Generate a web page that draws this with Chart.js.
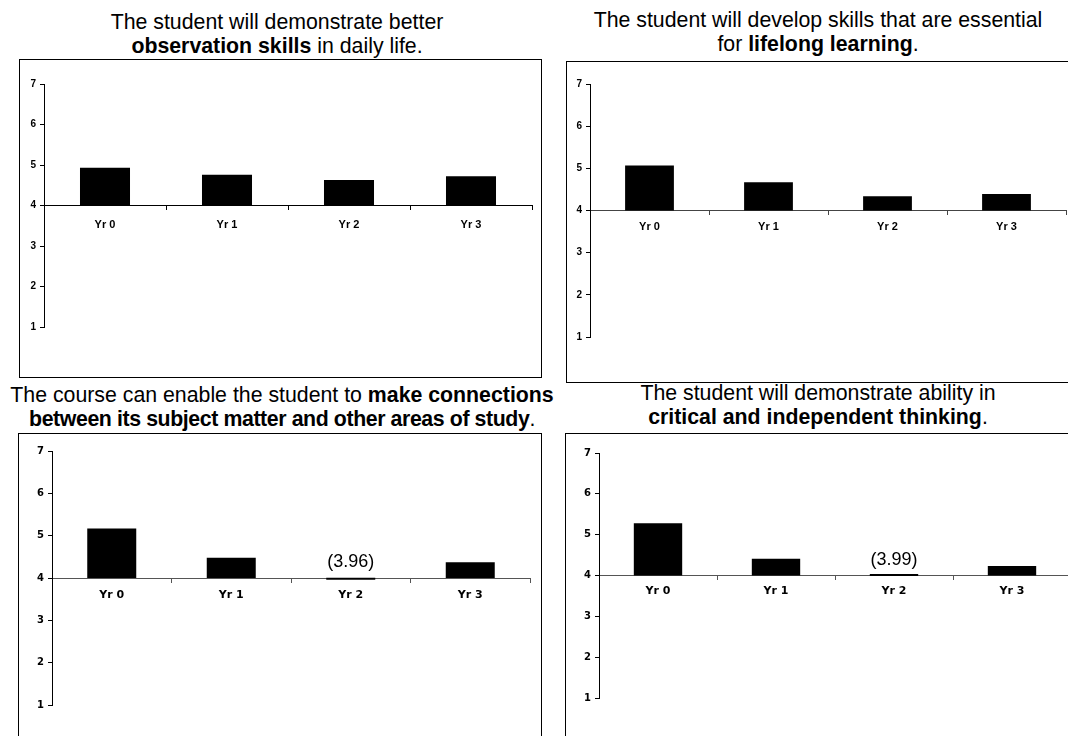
<!DOCTYPE html>
<html>
<head>
<meta charset="utf-8">
<script src="https://cdn.jsdelivr.net/npm/chart.js@4.4.1/dist/chart.umd.min.js"></script>
<style>
  html, body { margin: 0; padding: 0; background: #fff; }
  body { width: 1068px; height: 736px; overflow: hidden; position: relative;
         font-family: "Liberation Sans", Arial, sans-serif; color: #000; }
  .title { position: absolute; text-align: center; font-size: 21.3px; line-height: 24px;
           white-space: nowrap; transform: translateX(-50%); }
  .tight { letter-spacing: -0.4px; }
  .box { position: absolute; border: 1px solid #000; background: #fff; }
  .box canvas { display: block; }
</style>
</head>
<body>

<div class="title" style="left:277px; top:10px;">The student will demonstrate better<br><b>observation skills</b> in daily life.</div>
<div class="title" style="left:818px; top:8px;">The student will develop skills that are essential<br>for <b>lifelong learning</b>.</div>
<div class="title" style="left:282px; top:383px;">The course can enable the student to <b>make connections</b><br><span class="tight"><b>between its subject matter and other areas of study</b>.</span></div>
<div class="title" style="left:818px; top:381px;">The student will demonstrate ability in<br><b>critical and independent thinking</b>.</div>

<div class="box" style="left:19px; top:59px;"><canvas id="c1" width="521" height="317"></canvas></div>
<div class="box" style="left:566px; top:61px;"><canvas id="c2" width="513" height="320"></canvas></div>
<div class="box" style="left:18px; top:433px;"><canvas id="c3" width="522" height="311"></canvas></div>
<div class="box" style="left:565px; top:433px;"><canvas id="c4" width="524" height="311"></canvas></div>

<script>
// Survey categories and mean scores (7-point scale, bars drawn from the neutral midpoint 4)
const years = ['Yr 0', 'Yr 1', 'Yr 2', 'Yr 3'];
const observationSkills = [4.93, 4.76, 4.63, 4.72];
const lifelongLearning  = [5.07, 4.67, 4.34, 4.39];
const makeConnections   = [5.17, 4.48, 3.96, 4.37];
const criticalThinking  = [5.28, 4.41, 3.99, 4.23];
const scaleMin = 1;
const scaleMax = 7;
const midpoint = 4;

const SANS = '"Liberation Sans", Arial, sans-serif';
const WIDE = '"DejaVu Sans", Verdana, sans-serif';

// Writes "(value)" above the axis for bars that dip below the midpoint
const belowMidpointLabel = {
  id: 'belowMidpointLabel',
  afterDatasetsDraw(chart) {
    const ctx = chart.ctx;
    const meta = chart.getDatasetMeta(0);
    const yScale = chart.scales.y;
    chart.data.datasets[0].data.forEach((pair, i) => {
      const v = pair[1];
      if (v < pair[0]) {
        const el = meta.data[i];
        ctx.save();
        ctx.font = '18px ' + SANS;
        ctx.fillStyle = '#000';
        ctx.textAlign = 'center';
        ctx.textBaseline = 'alphabetic';
        ctx.fillText('(' + v.toFixed(2) + ')', el.x, yScale.getPixelForValue(pair[0]) - 11);
        ctx.restore();
      }
    });
  }
};

function drawPanel(canvasId, values, axisWidth, pad, labelPad, xFont, yFont, xAxisColor) {
  new Chart(document.getElementById(canvasId), {
    type: 'bar',
    data: {
      labels: years,
      datasets: [{
        data: values.map(v => [midpoint, v]),
        backgroundColor: '#000',
        borderWidth: 0,
        categoryPercentage: 1.0,
        barPercentage: 0.41,
        minBarLength: 2
      }]
    },
    options: {
      responsive: false,
      animation: false,
      layout: { padding: { left: 0, top: pad.top, right: pad.right, bottom: pad.bottom } },
      plugins: { legend: { display: false }, title: { display: false }, tooltip: { enabled: false } },
      scales: {
        x: {
          position: { y: midpoint },
          afterFit(scale) { scale.height = 0; },
          border: { display: true, color: xAxisColor, width: 1 },
          grid: { offset: true, drawOnChartArea: false, drawTicks: true, tickLength: 4, color: xAxisColor },
          ticks: { color: '#000', padding: labelPad, maxRotation: 0, autoSkip: false, font: xFont }
        },
        y: {
          position: 'left',
          min: scaleMin,
          max: scaleMax,
          afterFit(scale) { scale.width = axisWidth; },
          border: { display: true, color: '#000', width: 1 },
          grid: { drawOnChartArea: false, drawTicks: true, tickLength: 4, color: '#000' },
          ticks: { stepSize: 1, color: '#000', padding: 4, font: yFont }
        }
      }
    },
    plugins: [belowMidpointLabel]
  });
}

const narrowX = { family: SANS, size: 11, weight: 'bold' };
const narrowY = { family: SANS, size: 10, weight: 'bold' };
const wideX = { family: WIDE, size: 11, weight: 'bold' };
const wideY = { family: WIDE, size: 10, weight: 'bold' };

drawPanel('c1', observationSkills, 24, { top: 24, right: 9,  bottom: 50 }, 9, narrowX, narrowY, '#000');
drawPanel('c2', lifelongLearning,  23, { top: 22, right: 14, bottom: 45 }, 6, narrowX, narrowY, '#444');
drawPanel('c3', makeConnections,   33, { top: 17, right: 11, bottom: 40 }, 7, wideX, wideY, '#555');
drawPanel('c4', criticalThinking,  33, { top: 19, right: 19, bottom: 47 }, 5, wideX, wideY, '#555');
</script>
</body>
</html>
